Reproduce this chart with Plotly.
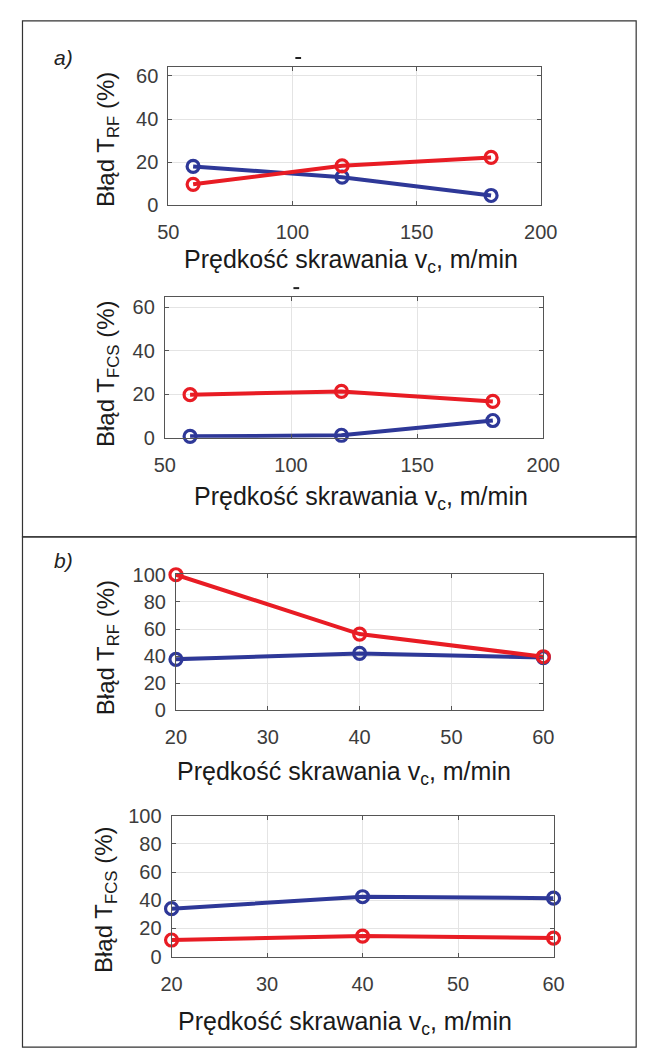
import plotly.graph_objects as go

# ---- data ----
vc_a = [60, 120, 180]
a_rf_blue = [18.0, 13.0, 4.5]
a_rf_red = [9.7, 18.3, 22.2]
a_fcs_blue = [0.6, 1.1, 7.9]
a_fcs_red = [19.8, 21.3, 16.7]

vc_b = [20, 40, 60]
b_rf_blue = [37.7, 42.0, 39.0]
b_rf_red = [100.0, 56.3, 39.6]
b_fcs_blue = [34.0, 42.5, 41.5]
b_fcs_red = [11.8, 14.6, 13.2]

xticks_a = [50, 100, 150, 200]
yticks_a = [0, 20, 40, 60]
xticks_b = [20, 30, 40, 50, 60]
yticks_b = [0, 20, 40, 60, 80, 100]

W, H = 657, 1060
BLUE = "rgb(46,56,152)"
RED = "rgb(232,28,36)"
FONT = "Liberation Sans, Arial, sans-serif"

def px(x):
    return x / W

def py(y):
    return 1 - y / H

fig = go.Figure()

panels = [
    (vc_a, a_rf_blue, a_rf_red, (164.3, 553.3), (56.7, 198.3), [50, 200], [0, 64.4], xticks_a, yticks_a, "RF", (355, 255), (101, 131)),
    (vc_a, a_fcs_blue, a_fcs_red, (160.7, 556.0), (292.3, 435.7), [50, 200], [0, 64.7], xticks_a, yticks_a, "FCS", (366, 497), (101, 370)),
    (vc_b, b_rf_blue, b_rf_red, (172.3, 556.0), (575.0, 714.3), [20, 60], [0, 100.5], xticks_b, yticks_b, "RF", (348, 778), (101, 650)),
    (vc_b, b_fcs_blue, b_fcs_red, (167.7, 566.7), (821.7, 965.7), [20, 60], [0, 100.0], xticks_b, yticks_b, "FCS", (349, 1033), (98, 907)),
]

annotations = []
shapes = []
for i, (xd, yb, yr, xdom, ydom, xr, yrg, xt, yt, sub, xtp, ytp) in enumerate(panels):
    n = i + 1
    xa = "x" if n == 1 else f"x{n}"
    ya = "y" if n == 1 else f"y{n}"
    for ys, col in ((yb, BLUE), (yr, RED)):
        fig.add_trace(go.Scatter(
            x=xd, y=ys, xaxis=xa, yaxis=ya, mode="lines+markers",
            line=dict(color=col, width=4),
            marker=dict(symbol="circle-open", size=12, color=col, line=dict(width=3.2, color=col)),
            cliponaxis=False, showlegend=False, hoverinfo="skip"))
    axcommon = dict(showline=True, linecolor="#555555", linewidth=1, mirror="ticks",
                    ticks="inside", ticklen=4, tickcolor="#555555",
                    showgrid=True, gridcolor="#e4e4e4", gridwidth=1, zeroline=False,
                    tickfont=dict(family=FONT, size=20, color="#3c3c3c"))
    fig.layout[f"xaxis{'' if n == 1 else n}"] = dict(
        domain=[px(xdom[0]), px(xdom[1])], range=xr, tickvals=xt, anchor=ya,
        ticklabelstandoff=9, **axcommon)
    fig.layout[f"yaxis{'' if n == 1 else n}"] = dict(
        domain=[py(ydom[1]), py(ydom[0])], range=yrg, tickvals=yt, anchor=xa,
        ticklabelstandoff=5, **axcommon)
    annotations.append(dict(
        x=px(xtp[0]), y=py(xtp[1]), xref="paper", yref="paper", showarrow=False,
        text="Prędkość skrawania v<sub>c</sub>, m/min",
        font=dict(family=FONT, size=25, color="#1a1a1a"), xanchor="center", yanchor="middle"))
    annotations.append(dict(
        x=px(ytp[0]), y=py(ytp[1]), xref="paper", yref="paper", showarrow=False,
        text=f"Błąd T<sub>{sub}</sub> (%)", textangle=-90,
        font=dict(family=FONT, size=24, color="#1a1a1a"), xanchor="center", yanchor="middle"))

# small title dashes on panel a
for (dx, dy) in ((300, 48), (298, 283)):
    shapes.append(dict(type="line", xref="paper", yref="paper",
                       x0=px(dx - 3), x1=px(dx + 3), y0=py(dy), y1=py(dy),
                       line=dict(color="#222", width=2)))

# panel labels
annotations.append(dict(x=px(43), y=py(34), xref="paper", yref="paper", showarrow=False,
                        text="<i>a)</i>", font=dict(family=FONT, size=21, color="#222")))
annotations.append(dict(x=px(43), y=py(561), xref="paper", yref="paper", showarrow=False,
                        text="<i>b)</i>", font=dict(family=FONT, size=21, color="#222")))

# panel frames
shapes.append(dict(type="rect", xref="paper", yref="paper", x0=px(12), x1=px(653),
                   y0=py(537), y1=py(10), line=dict(color="#333", width=1.2)))
shapes.append(dict(type="rect", xref="paper", yref="paper", x0=px(12), x1=px(653),
                   y0=py(1058), y1=py(537), line=dict(color="#333", width=1.2)))

fig.update_layout(width=W, height=H, margin=dict(l=0, r=0, t=0, b=0),
                  paper_bgcolor="white", plot_bgcolor="white",
                  annotations=annotations, shapes=shapes)

fig.write_html("out.html",
               post_script="document.body.style.margin='0px';document.body.style.overflow='hidden';")
